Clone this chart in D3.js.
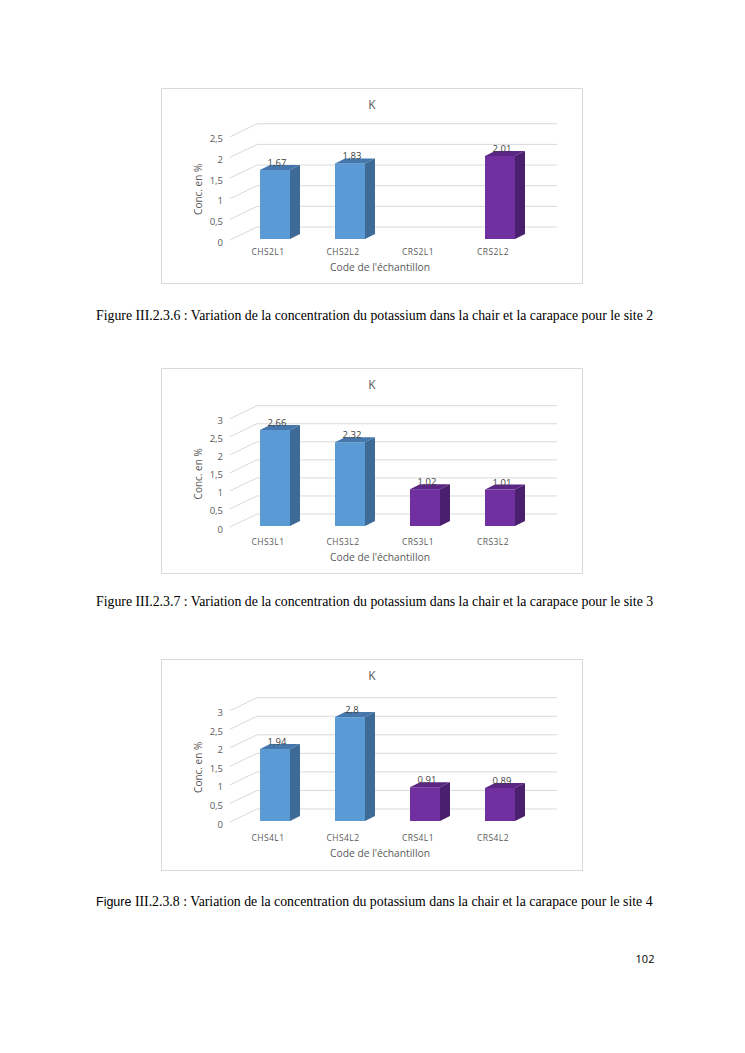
<!DOCTYPE html>
<html>
<head>
<meta charset="utf-8">
<script src="https://cdn.jsdelivr.net/npm/d3@7"></script>
<style>
  body { margin: 0; background: #fff; }
  svg { display: block; }
</style>
</head>
<body>
<div id="page"></div>
<script>
// data (site 2, 3, 4)
var categories2 = ["CHS2L1", "CHS2L2", "CRS2L1", "CRS2L2"];
var values2 = [1.67, 1.83, null, 2.01];
var ticks2 = [0, 0.5, 1, 1.5, 2, 2.5];

var categories3 = ["CHS3L1", "CHS3L2", "CRS3L1", "CRS3L2"];
var values3 = [2.66, 2.32, 1.02, 1.01];
var ticks3 = [0, 0.5, 1, 1.5, 2, 2.5, 3];

var categories4 = ["CHS4L1", "CHS4L2", "CRS4L1", "CRS4L2"];
var values4 = [1.94, 2.8, 0.91, 0.89];
var ticks4 = [0, 0.5, 1, 1.5, 2, 2.5, 3];

var chartTitle = "K";
var xTitle = "Code de l'échantillon";
var yTitle = "Conc. en %";
var captionHead = "Figure III.2.3.";
var captionText = " : Variation de la concentration du potassium dans la chair et la carapace pour le site ";
var figureNums = ["6", "7", "8"];
var siteNums = ["2", "3", "4"];
var pageNum = "102";

var W = 745, H = 1053;
var sans = "'Open Sans', 'Noto Sans', sans-serif";
var serif = "'Liberation Serif', 'DejaVu Serif', serif";

var colors = {
	CH: { front: "#5b9bd5", top: "#4677ac", side: "#3d6a96" },
	CR: { front: "#7030a0", top: "#5a2784", side: "#4a1f6d" }
};

var fr = d3.formatLocale({ decimal: ",", thousands: " ", grouping: [3], currency: ["", " €"] });
var fmtTick = fr.format(".1~f");
var fmtVal = fr.format(".2~f");

var svg = d3.select("#page").append("svg")
	.attr("width", W)
	.attr("height", H);

svg.append("rect").attr("width", W).attr("height", H).attr("fill", "#fff");

// depth of the 3d bars and of the side wall
var dx = 10, dy = 5;
var wallDx = 27, wallDy = 13, floorDy = 12;

function drawChart(layout, cats, vals, ticks) {
	var g = svg.append("g");
	var yMax = ticks[ticks.length - 1];

	var y = d3.scaleLinear()
		.domain([0, yMax])
		.range([layout.back0, layout.back0 - yMax * layout.k]);

	var x = d3.scaleBand()
		.domain(cats)
		.range([237.5, 537.5])
		.paddingInner(0.6)
		.paddingOuter(0.3);

	g.append("rect")
		.attr("x", 161.5).attr("y", layout.top + 0.5)
		.attr("width", 421).attr("height", layout.bottom - layout.top)
		.attr("fill", "#fff").attr("stroke", "#d9d9d9");

	g.append("text")
		.attr("x", 372).attr("y", layout.top + 21)
		.attr("text-anchor", "middle")
		.attr("font-family", sans).attr("font-size", 12)
		.attr("fill", "#595959")
		.text(chartTitle);

	// back wall gridlines and left wall diagonals
	g.selectAll(".grid").data(ticks).enter().append("line")
		.attr("x1", 257).attr("x2", 557)
		.attr("y1", function (d) { return y(d); })
		.attr("y2", function (d) { return y(d); })
		.attr("stroke", "#d9d9d9");

	g.selectAll(".diag").data(ticks).enter().append("line")
		.attr("x1", 257 - wallDx).attr("x2", 257)
		.attr("y1", function (d) { return y(d) + wallDy; })
		.attr("y2", function (d) { return y(d); })
		.attr("stroke", "#d9d9d9");

	var axis = g.append("g")
		.attr("transform", "translate(223," + (wallDy + 2) + ")")
		.attr("color", "#595959")
		.call(d3.axisLeft(y).tickValues(ticks).tickSize(0).tickPadding(0).tickFormat(fmtTick));
	axis.select(".domain").remove();
	axis.selectAll("text").attr("font-family", sans).attr("font-size", 9.5);

	var data = cats.map(function (c, i) { return { cat: c, val: vals[i] }; })
		.filter(function (d) { return d.val !== null; });

	var bw = x.bandwidth();
	var base = layout.back0 + floorDy;
	function fy(v) { return y(v) + floorDy; }

	var bars = g.selectAll(".bar").data(data).enter().append("g");

	bars.append("rect")
		.attr("x", function (d) { return x(d.cat); })
		.attr("y", function (d) { return fy(d.val); })
		.attr("width", bw)
		.attr("height", function (d) { return base - fy(d.val); })
		.attr("fill", function (d) { return colors[d.cat.slice(0, 2)].front; });

	bars.append("polygon")
		.attr("points", function (d) {
			var x0 = x(d.cat), t = fy(d.val);
			return [[x0, t], [x0 + dx, t - dy], [x0 + bw + dx, t - dy], [x0 + bw, t]].join(" ");
		})
		.attr("fill", function (d) { return colors[d.cat.slice(0, 2)].top; });

	bars.append("polygon")
		.attr("points", function (d) {
			var x1 = x(d.cat) + bw, t = fy(d.val);
			return [[x1, t], [x1 + dx, t - dy], [x1 + dx, base - dy], [x1, base]].join(" ");
		})
		.attr("fill", function (d) { return colors[d.cat.slice(0, 2)].side; });

	bars.append("text")
		.attr("x", function (d) { return x(d.cat) + bw / 2 + 2; })
		.attr("y", function (d) { return fy(d.val) - dy + 1; })
		.attr("text-anchor", "middle")
		.attr("font-family", sans).attr("font-size", 9.5)
		.attr("fill", "#404040")
		.text(function (d) { return fmtVal(d.val); });

	g.selectAll(".cat").data(cats).enter().append("text")
		.attr("x", function (d) { return x(d) + bw / 2 - 7; })
		.attr("y", layout.back0 + layout.catDy)
		.attr("text-anchor", "middle")
		.attr("font-family", sans).attr("font-size", 8.5)
		.attr("letter-spacing", 0.4)
		.attr("fill", "#595959")
		.text(function (d) { return d; });

	g.append("text")
		.attr("x", 380).attr("y", layout.back0 + layout.catDy + 16)
		.attr("text-anchor", "middle")
		.attr("font-family", sans).attr("font-size", 10.3)
		.attr("fill", "#595959")
		.text(xTitle);

	var ymid = (y(0) + y(yMax)) / 2 + 14;
	g.append("text")
		.attr("transform", "translate(202," + ymid + ") rotate(-90)")
		.attr("text-anchor", "middle")
		.attr("font-family", sans).attr("font-size", 10)
		.attr("fill", "#595959")
		.text(yTitle);
}

drawChart({ top: 88, bottom: 283, back0: 227, k: 41.3, catDy: 28 }, categories2, values2, ticks2);
drawChart({ top: 368, bottom: 573, back0: 514, k: 36.1, catDy: 31 }, categories3, values3, ticks3);
drawChart({ top: 659, bottom: 870, back0: 809, k: 37.1, catDy: 32 }, categories4, values4, ticks4);

// figure captions
var capY = [320, 606, 906];
figureNums.forEach(function (n, i) {
	var t = svg.append("text")
		.attr("x", 96).attr("y", capY[i])
		.attr("font-family", serif).attr("font-size", 13.8)
		.attr("fill", "#000");
	if (i === 2) {
		t.append("tspan").attr("font-family", "'Liberation Sans', 'Open Sans', sans-serif").attr("font-size", 12.5).text("Figure");
		t.append("tspan").text(captionHead.slice(6) + n + captionText + siteNums[i]);
	} else {
		t.text(captionHead + n + captionText + siteNums[i]);
	}
});

svg.append("text")
	.attr("x", 645).attr("y", 963)
	.attr("text-anchor", "middle")
	.attr("font-family", sans).attr("font-size", 11)
	.attr("fill", "#000")
	.text(pageNum);
</script>
</body>
</html>
